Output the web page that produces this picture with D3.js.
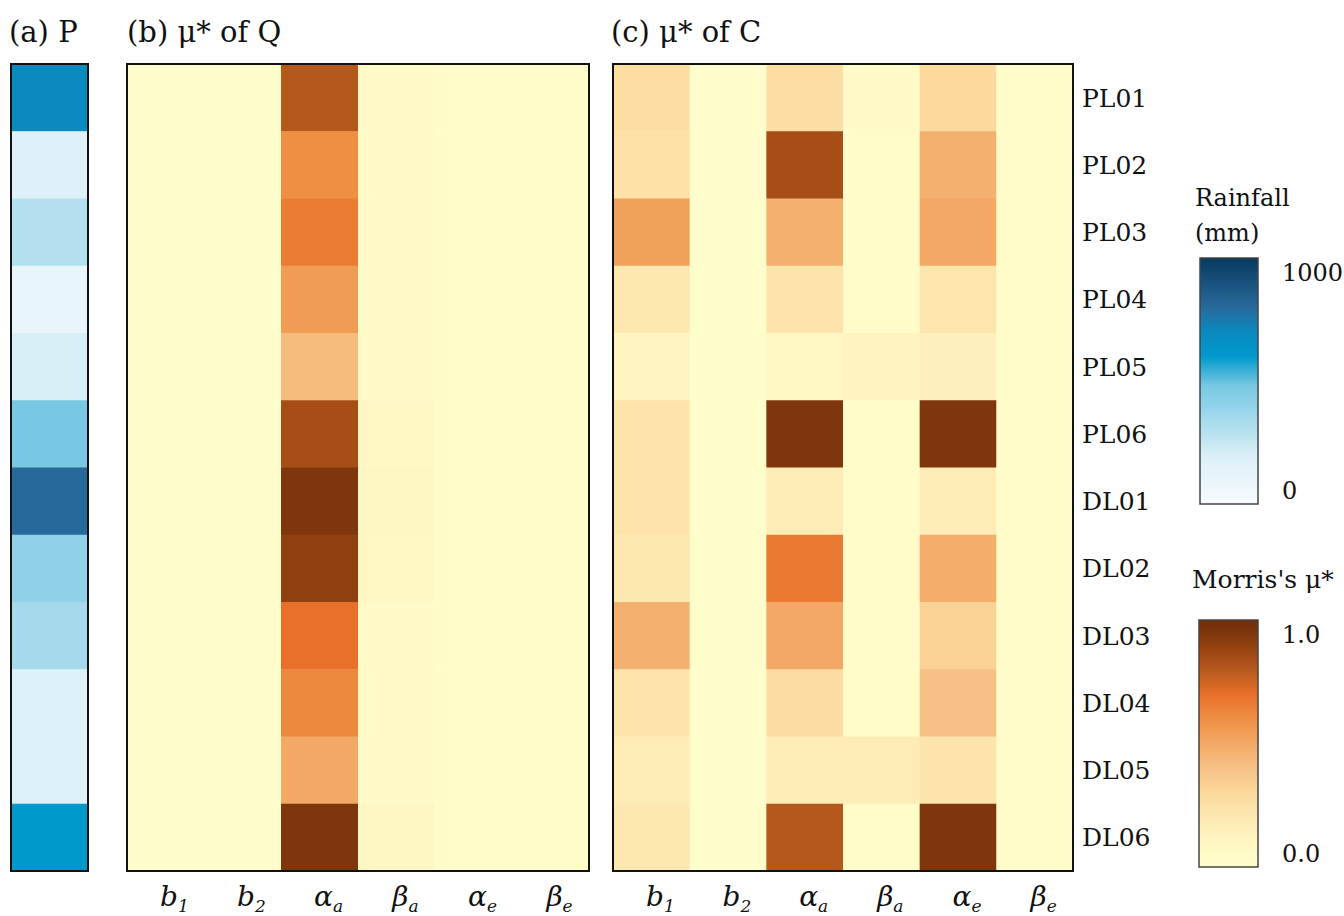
<!DOCTYPE html>
<html>
<head>
<meta charset="utf-8">
<script src="https://cdn.jsdelivr.net/npm/d3@7"></script>
<style>
  body { margin: 0; background: #fff; }
  svg text { font-family: "DejaVu Serif", "Liberation Serif", serif; fill: #111; }
</style>
</head>
<body>
<svg id="chart" width="1344" height="916"></svg>
<script>
// stations (rows) and parameters (columns)
const stations = ['PL01', 'PL02', 'PL03', 'PL04', 'PL05', 'PL06', 'DL01', 'DL02', 'DL03', 'DL04', 'DL05', 'DL06'];
const paramSymbols = ['b', 'b', 'α', 'β', 'α', 'β'];
const paramSubs = ['1', '2', 'a', 'a', 'e', 'e'];

// rainfall per station (mm)
const rainfall = [700, 180, 300, 100, 200, 480, 800, 400, 350, 190, 190, 600];

// Morris mu* of Q, one row per station: b1, b2, alpha_a, beta_a, alpha_e, beta_e
const muQ = [
    [0.00, 0.00, 0.80, 0.04, 0.01, 0.01],
    [0.00, 0.00, 0.60, 0.04, 0.01, 0.01],
    [0.00, 0.00, 0.66, 0.04, 0.01, 0.01],
    [0.00, 0.00, 0.55, 0.04, 0.01, 0.01],
    [0.00, 0.00, 0.42, 0.04, 0.01, 0.01],
    [0.00, 0.00, 0.84, 0.08, 0.01, 0.01],
    [0.00, 0.00, 0.95, 0.09, 0.01, 0.01],
    [0.00, 0.00, 0.90, 0.08, 0.01, 0.01],
    [0.00, 0.00, 0.70, 0.04, 0.01, 0.01],
    [0.00, 0.00, 0.62, 0.04, 0.01, 0.01],
    [0.00, 0.00, 0.50, 0.04, 0.01, 0.01],
    [0.00, 0.00, 0.95, 0.09, 0.01, 0.01]
];

// Morris mu* of C
const muC = [
    [0.27, 0.00, 0.27, 0.04, 0.30, 0.01],
    [0.25, 0.00, 0.84, 0.01, 0.47, 0.01],
    [0.53, 0.00, 0.47, 0.01, 0.50, 0.01],
    [0.20, 0.00, 0.23, 0.01, 0.22, 0.01],
    [0.11, 0.00, 0.07, 0.12, 0.14, 0.01],
    [0.23, 0.00, 0.95, 0.01, 0.95, 0.01],
    [0.23, 0.00, 0.17, 0.01, 0.17, 0.01],
    [0.20, 0.00, 0.67, 0.01, 0.48, 0.01],
    [0.47, 0.00, 0.50, 0.02, 0.33, 0.01],
    [0.23, 0.00, 0.28, 0.01, 0.40, 0.01],
    [0.17, 0.00, 0.17, 0.17, 0.23, 0.01],
    [0.20, 0.00, 0.80, 0.01, 0.95, 0.01]
];

// colour ramps
const rainStops = [0, 100, 190, 300, 350, 400, 480, 600, 700, 800, 1000];
const rainColors = ['#f7fbfd', '#e8f5fb', '#ddf1f8', '#b3e0ee', '#a5daec', '#8fd2e8', '#79c8e3', '#0099cc', '#0a8abf', '#28699c', '#083a5e'];
const rainColor = d3.scaleLinear().domain(rainStops).range(rainColors).clamp(true);

const muStops = [0, 0.1, 0.2, 0.3, 0.4, 0.5, 0.6, 0.7, 0.8, 0.9, 1.0];
const muColors = ['#fffdcb', '#fff6c2', '#fde8b2', '#fcd99c', '#f6c184', '#f3a865', '#ee8f44', '#e8702a', '#b5581c', '#914010', '#6e2c0a'];
const muColor = d3.scaleLinear().domain(muStops).range(muColors).clamp(true);

const svg = d3.select('#chart');
const defs = svg.append('defs');

const plotTop = 64, plotBottom = 871;
const y = d3.scaleBand().domain(stations).range([plotTop, plotBottom]).padding(0);

// ---- panel (a) rainfall ----
const xa = d3.scaleBand().domain(['P']).range([11, 88]);
const ga = svg.append('g');
ga.selectAll('rect.cell')
    .data(stations.map((s, i) => ({station: s, value: rainfall[i]})))
    .enter().append('rect')
    .attr('class', 'cell')
    .attr('x', xa('P'))
    .attr('width', xa.bandwidth())
    .attr('y', d => y(d.station))
    .attr('height', y.bandwidth() + 0.5)
    .attr('fill', d => rainColor(d.value));
ga.append('rect')
    .attr('x', 11).attr('y', plotTop).attr('width', 77).attr('height', plotBottom - plotTop)
    .attr('fill', 'none').attr('stroke', '#111').attr('stroke-width', 2);

// ---- heatmap panels ----
function heatmap(x0, x1, data) {
    const x = d3.scaleBand().domain(d3.range(paramSymbols.length)).range([x0, x1]);
    const g = svg.append('g');
    const cells = [];
    data.forEach((row, i) => row.forEach((v, j) => cells.push({station: stations[i], col: j, value: v})));
    g.selectAll('rect.cell')
        .data(cells)
        .enter().append('rect')
        .attr('class', 'cell')
        .attr('x', d => x(d.col))
        .attr('width', x.bandwidth() + 0.5)
        .attr('y', d => y(d.station))
        .attr('height', y.bandwidth() + 0.5)
        .attr('fill', d => muColor(d.value));
    g.append('rect')
        .attr('x', x0).attr('y', plotTop).attr('width', x1 - x0).attr('height', plotBottom - plotTop)
        .attr('fill', 'none').attr('stroke', '#111').attr('stroke-width', 2);

    // parameter labels
    const lab = g.selectAll('text.param')
        .data(paramSymbols.map((s, j) => ({sym: s, sub: paramSubs[j], col: j})))
        .enter().append('text')
        .attr('class', 'param')
        .attr('x', d => x(d.col) + x.bandwidth() / 2 + 9)
        .attr('y', 906)
        .attr('text-anchor', 'middle')
        .style('font-style', 'italic')
        .style('font-size', '28px');
    lab.append('tspan').text(d => d.sym);
    lab.append('tspan').attr('dy', 6).style('font-size', '17px').text(d => d.sub);
}

heatmap(127, 589, muQ);
heatmap(613, 1073, muC);

// station labels
svg.append('g').selectAll('text')
    .data(stations)
    .enter().append('text')
    .attr('x', 1082)
    .attr('y', d => y(d) + y.bandwidth() / 2)
    .attr('dy', '0.36em')
    .style('font-size', '25px')
    .text(d => d);

// panel titles
const titles = [['(a) P', 9], ['(b) μ* of Q', 127], ['(c) μ* of C', 611]];
svg.append('g').selectAll('text')
    .data(titles)
    .enter().append('text')
    .attr('x', d => d[1])
    .attr('y', 42)
    .style('font-size', '29px')
    .text(d => d[0]);

// ---- colour bars ----
function colorbar(id, scale, dmin, dmax, x0, y0, w, h, ticks) {
    const grad = defs.append('linearGradient')
        .attr('id', id).attr('x1', 0).attr('y1', 1).attr('x2', 0).attr('y2', 0);
    d3.range(0, 1.0001, 0.02).forEach(t => {
        grad.append('stop')
            .attr('offset', t)
            .attr('stop-color', scale(dmin + t * (dmax - dmin)));
    });
    svg.append('rect')
        .attr('x', x0).attr('y', y0).attr('width', w).attr('height', h)
        .attr('fill', `url(#${id})`)
        .attr('stroke', '#444').attr('stroke-width', 1.5);
    const yy = d3.scaleLinear().domain([dmin, dmax]).range([y0 + h - 14, y0 + 14]);
    svg.append('g').selectAll('text')
        .data(ticks)
        .enter().append('text')
        .attr('x', x0 + w + 24)
        .attr('y', d => yy(d.v))
        .attr('dy', '0.36em')
        .style('font-size', '24px')
        .text(d => d.label);
}

svg.append('text').attr('x', 1195).attr('y', 206).style('font-size', '24px').text('Rainfall');
svg.append('text').attr('x', 1195).attr('y', 241).style('font-size', '24px').text('(mm)');
colorbar('rainGrad', rainColor, 0, 1000, 1200, 258, 58, 246, [{v: 0, label: '0'}, {v: 1000, label: '1000'}]);

svg.append('text').attr('x', 1192).attr('y', 588).style('font-size', '25px').text("Morris's μ*");
colorbar('muGrad', muColor, 0, 1, 1199, 620, 59, 247, [{v: 0, label: '0.0'}, {v: 1, label: '1.0'}]);
</script>
</body>
</html>
